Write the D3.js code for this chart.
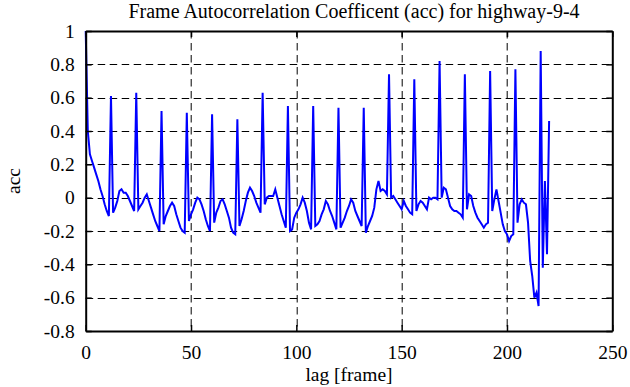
<!DOCTYPE html>
<html>
<head>
<meta charset="utf-8">
<script src="https://cdn.jsdelivr.net/npm/d3@7"></script>
<style>
    body { margin: 0; background: #fff; }
</style>
</head>
<body>
<svg id="chart" width="630" height="387"></svg>
<script>
var titleText = "Frame Autocorrelation Coefficent (acc) for highway-9-4";
var xLabel = "lag [frame]";
var yLabel = "acc";

var xTicks = [0, 50, 100, 150, 200, 250];
var yTicks = [-0.8, -0.6, -0.4, -0.2, 0, 0.2, 0.4, 0.6, 0.8, 1];

// acc value for lag 0, 1, 2, ...
var acc = [
    1.00, 0.40, 0.26, 0.22, 0.18, 0.14, 0.10, 0.05, 0.01, -0.04,
    -0.08, -0.11, 0.61, -0.09, -0.06, -0.02, 0.04, 0.05, 0.03, 0.03,
    0.01, -0.02, -0.05, -0.08, 0.63, -0.07, -0.05, -0.03, 0.00, 0.02,
    -0.02, -0.06, -0.10, -0.14, -0.17, -0.20, 0.52, -0.16, -0.11, -0.08,
    -0.05, -0.03, -0.05, -0.10, -0.14, -0.18, -0.20, -0.21, 0.51, -0.14,
    -0.10, -0.07, -0.03, 0.00, -0.01, -0.04, -0.08, -0.13, -0.17, -0.20,
    0.50, -0.15, -0.09, -0.06, -0.02, -0.01, -0.04, -0.08, -0.12, -0.18,
    -0.21, -0.22, 0.47, -0.17, -0.13, -0.08, -0.02, 0.03, 0.06, 0.04,
    0.01, -0.03, -0.06, -0.09, 0.63, -0.04, 0.00, 0.01, 0.01, 0.01,
    0.05, 0.00, -0.05, -0.10, -0.14, -0.18, 0.55, -0.20, -0.19, -0.12,
    -0.09, -0.07, -0.04, 0.00, -0.03, -0.08, -0.15, -0.19, 0.55, -0.17,
    -0.16, -0.14, -0.10, -0.07, -0.02, -0.04, -0.08, -0.11, -0.15, -0.19,
    0.54, -0.18, -0.15, -0.12, -0.08, -0.05, -0.01, -0.03, -0.08, -0.11,
    -0.14, -0.17, 0.54, -0.21, -0.17, -0.14, -0.11, -0.06, 0.05, 0.10,
    0.04, 0.05, 0.04, 0.02, 0.74, 0.00, 0.01, -0.01, -0.03, -0.05,
    -0.07, -0.02, -0.05, -0.07, -0.09, -0.10, 0.71, -0.08, -0.04, -0.02,
    -0.03, -0.05, -0.07, 0.00, -0.01, 0.00, 0.00, -0.01, 0.82, 0.00,
    0.06, 0.05, 0.00, -0.05, -0.07, -0.08, -0.08, -0.09, -0.10, -0.12,
    0.74, -0.07, 0.02, 0.01, -0.05, -0.09, -0.12, -0.14, -0.16, -0.18,
    -0.16, -0.15, 0.76, -0.08, -0.01, 0.05, -0.02, -0.09, -0.16, -0.20,
    -0.22, -0.26, -0.23, -0.22, 0.77, -0.15, -0.04, -0.01, -0.03, -0.04,
    -0.15, -0.38, -0.47, -0.60, -0.57, -0.65, 0.88, -0.42, 0.10, -0.34,
    0.46
];

var serif = "'Liberation Serif', 'Times New Roman', Times, serif";

var svg = d3.select("#chart")
        .attr("font-family", serif),
    margin = {top: 31, right: 17.7, bottom: 56, left: 85.7},
    width = 630 - margin.left - margin.right,
    height = 387 - margin.top - margin.bottom,
    g = svg.append("g").attr("transform", "translate(" + margin.left + "," + margin.top + ")");

var x = d3.scaleLinear().domain([0, 250]).range([0, width]);
var y = d3.scaleLinear().domain([-0.8, 1]).range([height, 0]);

var fmt = function (d) {
    return d === 0 ? "0" : String(+d.toFixed(1));
};

// dashed grid
g.append("g")
    .selectAll("line")
    .data(xTicks.slice(1, -1))
    .enter().append("line")
    .attr("x1", function (d) { return Math.round(x(d)) + 0.5; })
    .attr("x2", function (d) { return Math.round(x(d)) + 0.5; })
    .attr("y1", 0)
    .attr("y2", height)
    .attr("stroke", "#000")
    .attr("stroke-width", 1)
    .attr("stroke-dasharray", "7.5,4.5");

g.append("g")
    .selectAll("line")
    .data(yTicks.slice(1, -1))
    .enter().append("line")
    .attr("y1", function (d) { return Math.round(y(d)) + 0.5; })
    .attr("y2", function (d) { return Math.round(y(d)) + 0.5; })
    .attr("x1", 0)
    .attr("x2", width)
    .attr("stroke", "#000")
    .attr("stroke-width", 1)
    .attr("stroke-dasharray", "7.5,4.5");

// data line
var line = d3.line()
    .x(function (d, i) { return x(i); })
    .y(function (d) { return y(d); });

g.append("path")
    .datum(acc)
    .attr("fill", "none")
    .attr("stroke", "#0000ff")
    .attr("stroke-width", 2)
    .attr("d", line);

// axes, ticks pointing inward on all four sides
var styleAxis = function (sel) {
    sel.attr("font-family", serif).attr("font-size", 19.5);
    sel.select(".domain").attr("stroke", "#000").attr("stroke-width", 2);
    sel.selectAll(".tick line").attr("stroke", "#000").attr("stroke-width", 1.5);
    sel.selectAll(".tick text").attr("fill", "#000");
};

g.append("g")
    .attr("transform", "translate(0," + height + ")")
    .call(d3.axisBottom(x).tickValues(xTicks).tickSize(-6).tickSizeOuter(0).tickPadding(14).tickFormat(fmt))
    .call(styleAxis);

g.append("g")
    .call(d3.axisLeft(y).tickValues(yTicks).tickSize(-6).tickSizeOuter(0).tickPadding(11).tickFormat(fmt))
    .call(styleAxis);

g.append("g")
    .call(d3.axisTop(x).tickValues(xTicks).tickSize(-6).tickSizeOuter(0).tickFormat(""))
    .call(styleAxis);

g.append("g")
    .attr("transform", "translate(" + width + ",0)")
    .call(d3.axisRight(y).tickValues(yTicks).tickSize(-6).tickSizeOuter(0).tickFormat(""))
    .call(styleAxis);

// title and axis labels
svg.append("text")
    .attr("x", 354)
    .attr("y", 18)
    .attr("text-anchor", "middle")
    .attr("font-size", 20)
    .text(titleText);

svg.append("text")
    .attr("x", margin.left + width / 2)
    .attr("y", 381)
    .attr("text-anchor", "middle")
    .attr("font-size", 19.5)
    .text(xLabel);

svg.append("text")
    .attr("transform", "translate(20," + (margin.top + height / 2) + ") rotate(-90)")
    .attr("text-anchor", "middle")
    .attr("font-size", 19.5)
    .text(yLabel);
</script>
</body>
</html>
